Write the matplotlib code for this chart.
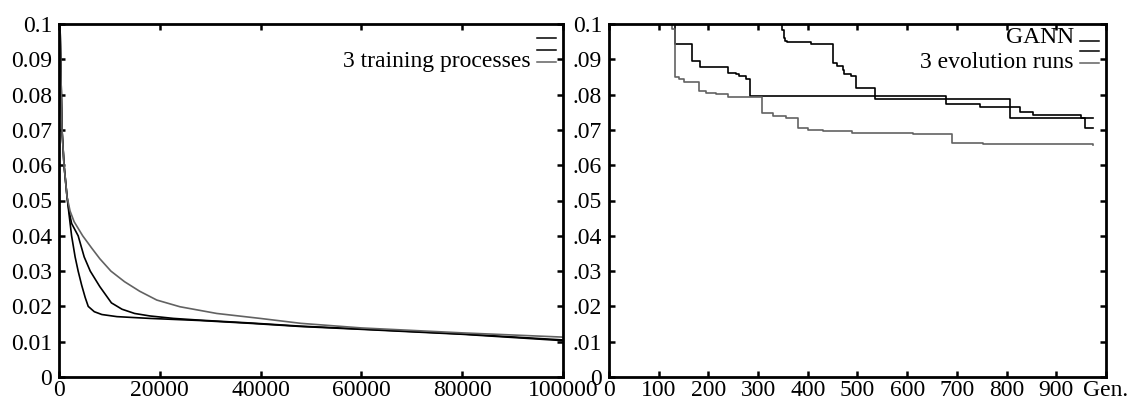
import matplotlib
matplotlib.use('Agg')
import matplotlib.pyplot as plt

# ---- left panel: training error of 3 backprop runs ----
ta_x = [0, 200, 600, 1000, 1600, 2000, 2500, 3200, 3800, 4500, 5200, 5800, 7000, 8500,
        11500, 18000, 28000, 38000, 48000, 60000, 80000, 100000]
ta_y = [0.15, 0.10, 0.070, 0.060, 0.051, 0.046, 0.040, 0.034, 0.030, 0.026, 0.0225,
        0.020, 0.0185, 0.0177, 0.0171, 0.0166, 0.016, 0.0152, 0.0143, 0.0135, 0.0121, 0.0103]
tb_x = [0, 200, 600, 1000, 1600, 2000, 2500, 3800, 5000, 6200, 8100, 10400, 12500,
        15000, 18000, 22700, 28000, 38000, 48000, 60000, 80000, 100000]
tb_y = [0.15, 0.10, 0.070, 0.060, 0.051, 0.047, 0.0435, 0.040, 0.034, 0.030, 0.0256,
        0.021, 0.0192, 0.018, 0.0173, 0.0166, 0.0161, 0.0153, 0.0144, 0.0136, 0.0122, 0.0105]
tc_x = [0, 200, 600, 1000, 1600, 2200, 3000, 4700, 6500, 8100, 10300, 13000, 16000,
        19400, 24000, 31300, 39900, 48000, 60000, 80000, 100000]
tc_y = [0.15, 0.10, 0.070, 0.060, 0.051, 0.047, 0.044, 0.040, 0.0365, 0.0335, 0.030,
        0.027, 0.0243, 0.0218, 0.0199, 0.018, 0.0166, 0.0152, 0.0139, 0.0125, 0.0113]

# ---- right panel: best error per generation, step curves ----
gann_x = [0, 133, 168, 183, 240, 255, 262, 275, 283, 679, 746, 826, 853, 950, 957, 974]
gann_y = [0.1, 0.0943, 0.0896, 0.0877, 0.0862, 0.0857, 0.0853, 0.0843, 0.0796, 0.0773,
          0.0765, 0.075, 0.0742, 0.0735, 0.0706, 0.0706]
run2_x = [0, 349, 352, 355, 358, 407, 451, 458, 470, 473, 487, 497, 535, 806, 955, 974]
run2_y = [0.1, 0.0983, 0.096, 0.0953, 0.0949, 0.0943, 0.089, 0.0881, 0.0871, 0.0858,
          0.0853, 0.082, 0.0787, 0.0735, 0.0733, 0.0733]
run3_x = [0, 127, 133, 140, 150, 181, 196, 216, 240, 283, 308, 330, 356, 380, 400, 430,
          488, 612, 690, 752, 974]
run3_y = [0.1, 0.0985, 0.085, 0.0843, 0.0837, 0.0811, 0.0805, 0.0802, 0.0794, 0.0792,
          0.0749, 0.074, 0.0735, 0.0704, 0.0700, 0.0697, 0.0692, 0.0688, 0.0664, 0.066,
          0.0657]

left_yticks = [0, 0.01, 0.02, 0.03, 0.04, 0.05, 0.06, 0.07, 0.08, 0.09, 0.1]
left_ylabels = ['0', '0.01', '0.02', '0.03', '0.04', '0.05', '0.06', '0.07', '0.08', '0.09', '0.1']
right_ylabels = ['0', '.01', '.02', '.03', '.04', '.05', '.06', '.07', '.08', '.09', '0.1']
left_xticks = [0, 20000, 40000, 60000, 80000, 100000]
right_xticks = [0, 100, 200, 300, 400, 500, 600, 700, 800, 900, 1000]
right_xlabels = ['0', '100', '200', '300', '400', '500', '600', '700', '800', '900', 'Gen.']

GRAY = '#626262'
plt.rcParams['font.family'] = ['Liberation Serif', 'DejaVu Serif']
plt.rcParams['font.size'] = 17

fig = plt.figure(figsize=(11.35, 3.97), dpi=100)
ax1 = fig.add_axes([59 / 1135, 20 / 397, 504 / 1135, 353 / 397])
ax2 = fig.add_axes([609 / 1135, 20 / 397, 497 / 1135, 353 / 397])

ax1.plot(ta_x, ta_y, color='black', lw=1.2)
ax1.plot(tb_x, tb_y, color='black', lw=1.2)
ax1.plot(tc_x, tc_y, color=GRAY, lw=1.2)

ax2.plot(gann_x, gann_y, color='black', lw=1.2, drawstyle='steps-post')
ax2.plot(run2_x, run2_y, color='black', lw=1.2, drawstyle='steps-post')
ax2.plot(run3_x, run3_y, color=GRAY, lw=1.2, drawstyle='steps-post')

ax1.set_xlim(0, 100000)
ax2.set_xlim(0, 1000)
for ax in (ax1, ax2):
    ax.set_ylim(0, 0.1)
    ax.set_yticks(left_yticks)
    for s in ax.spines.values():
        s.set_linewidth(2.0)
    ax.tick_params(direction='in', length=4, width=1.8, top=True, right=True,
                   labelsize=17)
    ax.tick_params(axis='x', pad=2)
    ax.tick_params(axis='y', pad=5)

ax1.set_yticklabels(left_ylabels)
ax1.set_xticks(left_xticks)
ax1.set_xticklabels([str(v) for v in left_xticks])
ax2.set_yticklabels(right_ylabels)
ax2.set_xticks(right_xticks)
ax2.set_xticklabels(right_xlabels)


def key(ax, rows, text_rows):
    # gnuplot-style key: text right-aligned, short sample line to its right
    for yy, col in rows:
        ax.plot([0.948, 0.986], [yy, yy], color=col, lw=1.1,
                transform=ax.transAxes, clip_on=False)
    for yy, txt in text_rows:
        ax.text(0.935, yy, txt, transform=ax.transAxes, ha='right', va='baseline',
                fontsize=17)


key(ax1, [(0.9595, 'black'), (0.926, 'black'), (0.8915, GRAY)],
    [(0.877, '3 training processes')])
key(ax2, [(0.9527, 'black'), (0.9235, 'black'), (0.890, GRAY)],
    [(0.945, 'GANN'), (0.876, '3 evolution runs')])

fig.savefig('out.png', dpi=100)
